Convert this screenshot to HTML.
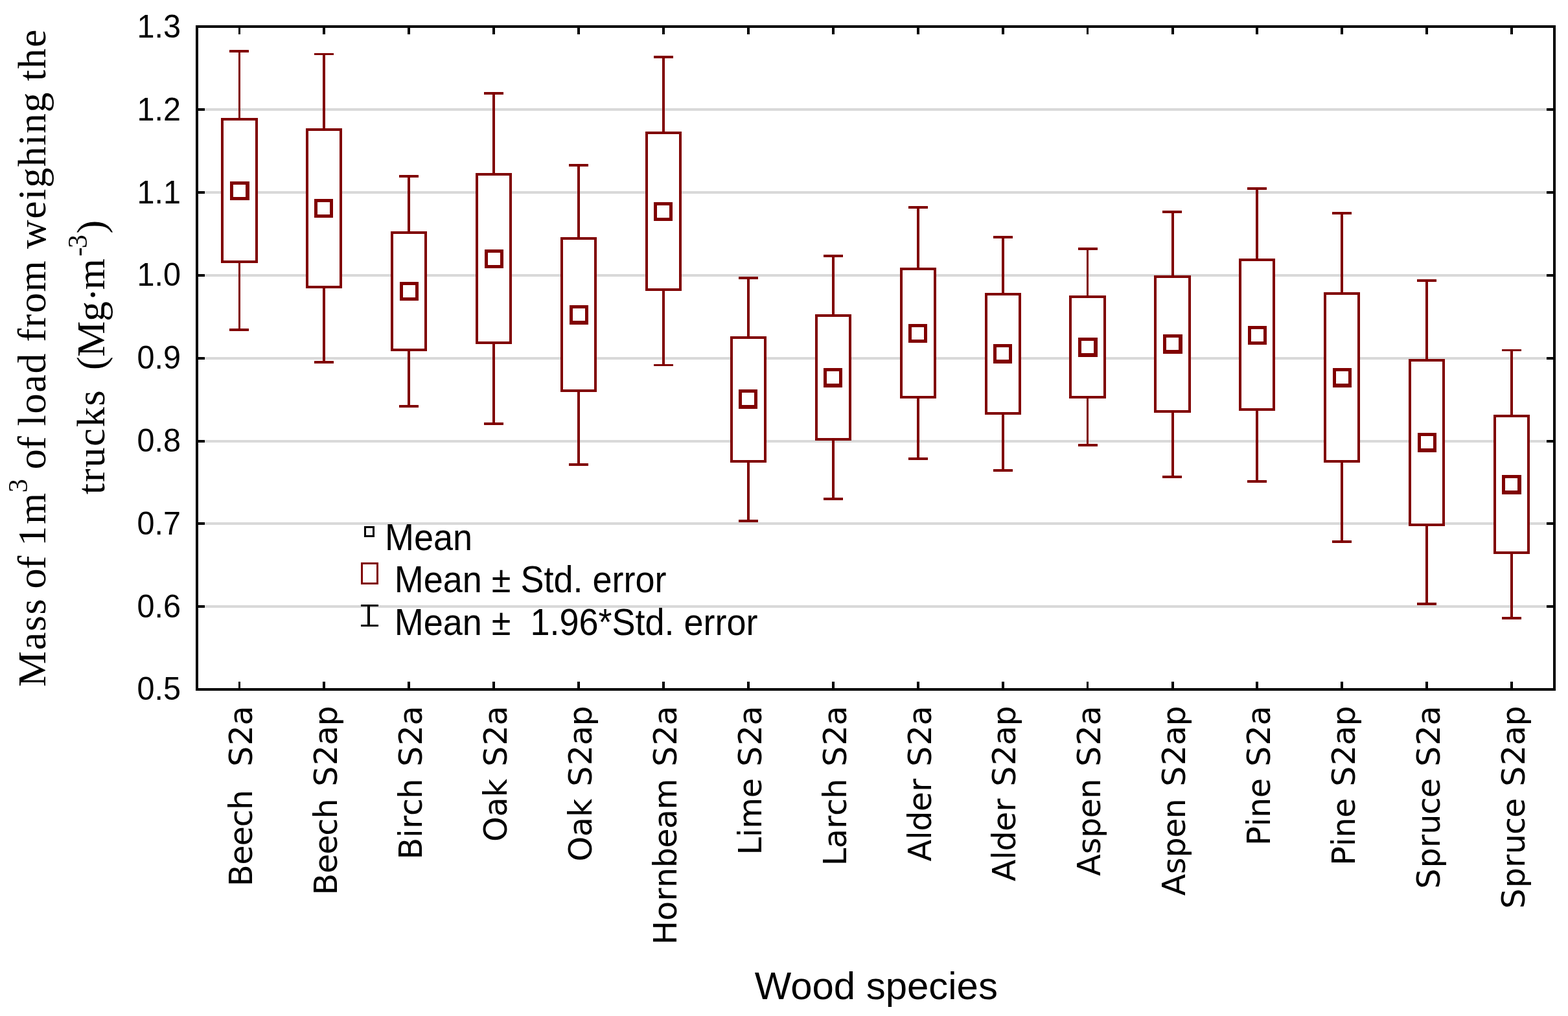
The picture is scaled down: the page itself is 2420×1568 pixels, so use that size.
<!DOCTYPE html>
<html lang="en">
<head>
<meta charset="utf-8">
<title>Mass of 1m3 of load from weighing the trucks by wood species</title>
<style>
html,body{margin:0;padding:0;background:#fff;}
body{width:2420px;height:1568px;overflow:hidden;}
svg{display:block;}
text{fill:#000;white-space:pre;}
.sans{font-family:"Liberation Sans",sans-serif;}
.serif{font-family:"Liberation Serif",serif;}
.xl{font-family:"DejaVu Sans", "Liberation Sans", sans-serif;}
</style>
</head>
<body>
<svg width="2420" height="1568" viewBox="0 0 2420 1568" shape-rendering="crispEdges">
<rect x="0" y="0" width="2420" height="1568" fill="#fff"/>
<g id="grid">
<rect x="316" y="167" width="2071" height="4" fill="#d9d9d9"/>
<rect x="316" y="295" width="2071" height="4" fill="#d9d9d9"/>
<rect x="316" y="423" width="2071" height="4" fill="#d9d9d9"/>
<rect x="316" y="551" width="2071" height="4" fill="#d9d9d9"/>
<rect x="316" y="679" width="2071" height="4" fill="#d9d9d9"/>
<rect x="316" y="806" width="2071" height="4" fill="#d9d9d9"/>
<rect x="316" y="934" width="2071" height="4" fill="#d9d9d9"/>
</g>
<g id="whiskers">
<rect x="368" y="79" width="3" height="430" fill="#800000"/>
<rect x="354" y="77" width="30" height="4" fill="#800000"/>
<rect x="354" y="507" width="30" height="4" fill="#800000"/>
<rect x="498" y="84" width="4" height="475" fill="#800000"/>
<rect x="485" y="82" width="30" height="3" fill="#800000"/>
<rect x="485" y="557" width="30" height="4" fill="#800000"/>
<rect x="629" y="272" width="4" height="355" fill="#800000"/>
<rect x="616" y="270" width="30" height="4" fill="#800000"/>
<rect x="616" y="625" width="30" height="4" fill="#800000"/>
<rect x="760" y="144" width="4" height="510" fill="#800000"/>
<rect x="747" y="142" width="30" height="4" fill="#800000"/>
<rect x="747" y="652" width="30" height="4" fill="#800000"/>
<rect x="891" y="255" width="4" height="462" fill="#800000"/>
<rect x="878" y="253" width="30" height="4" fill="#800000"/>
<rect x="878" y="715" width="30" height="4" fill="#800000"/>
<rect x="1022" y="88" width="4" height="476" fill="#800000"/>
<rect x="1009" y="86" width="30" height="4" fill="#800000"/>
<rect x="1009" y="562" width="30" height="3" fill="#800000"/>
<rect x="1153" y="429" width="4" height="375" fill="#800000"/>
<rect x="1140" y="427" width="30" height="4" fill="#800000"/>
<rect x="1140" y="802" width="30" height="4" fill="#800000"/>
<rect x="1284" y="395" width="4" height="375" fill="#800000"/>
<rect x="1271" y="393" width="30" height="4" fill="#800000"/>
<rect x="1271" y="768" width="30" height="4" fill="#800000"/>
<rect x="1415" y="320" width="4" height="388" fill="#800000"/>
<rect x="1402" y="318" width="30" height="4" fill="#800000"/>
<rect x="1402" y="706" width="30" height="4" fill="#800000"/>
<rect x="1546" y="366" width="4" height="360" fill="#800000"/>
<rect x="1533" y="364" width="30" height="4" fill="#800000"/>
<rect x="1533" y="724" width="30" height="4" fill="#800000"/>
<rect x="1677" y="384" width="3" height="303" fill="#800000"/>
<rect x="1664" y="382" width="30" height="4" fill="#800000"/>
<rect x="1664" y="685" width="30" height="4" fill="#800000"/>
<rect x="1808" y="327" width="4" height="409" fill="#800000"/>
<rect x="1794" y="325" width="30" height="4" fill="#800000"/>
<rect x="1794" y="734" width="30" height="4" fill="#800000"/>
<rect x="1938" y="291" width="4" height="452" fill="#800000"/>
<rect x="1925" y="289" width="30" height="4" fill="#800000"/>
<rect x="1925" y="741" width="30" height="4" fill="#800000"/>
<rect x="2069" y="329" width="4" height="507" fill="#800000"/>
<rect x="2056" y="327" width="30" height="4" fill="#800000"/>
<rect x="2056" y="834" width="30" height="4" fill="#800000"/>
<rect x="2200" y="433" width="4" height="499" fill="#800000"/>
<rect x="2187" y="431" width="30" height="4" fill="#800000"/>
<rect x="2187" y="930" width="30" height="4" fill="#800000"/>
<rect x="2331" y="540" width="4" height="414" fill="#800000"/>
<rect x="2318" y="539" width="30" height="3" fill="#800000"/>
<rect x="2318" y="952" width="30" height="4" fill="#800000"/>
</g>
<g id="boxes">
<rect x="341" y="182" width="57" height="224" fill="#800000"/>
<rect x="345" y="186" width="49" height="216" fill="#fff"/>
<rect x="472" y="198" width="56" height="247" fill="#800000"/>
<rect x="476" y="202" width="48" height="239" fill="#fff"/>
<rect x="603" y="357" width="56" height="185" fill="#800000"/>
<rect x="607" y="361" width="48" height="177" fill="#fff"/>
<rect x="734" y="267" width="56" height="264" fill="#800000"/>
<rect x="738" y="271" width="48" height="256" fill="#fff"/>
<rect x="865" y="366" width="56" height="239" fill="#800000"/>
<rect x="869" y="370" width="48" height="231" fill="#fff"/>
<rect x="996" y="203" width="56" height="246" fill="#800000"/>
<rect x="1000" y="207" width="48" height="238" fill="#fff"/>
<rect x="1127" y="519" width="56" height="195" fill="#800000"/>
<rect x="1131" y="523" width="48" height="187" fill="#fff"/>
<rect x="1258" y="485" width="56" height="195" fill="#800000"/>
<rect x="1262" y="489" width="48" height="187" fill="#fff"/>
<rect x="1389" y="413" width="56" height="202" fill="#800000"/>
<rect x="1393" y="417" width="48" height="194" fill="#fff"/>
<rect x="1520" y="452" width="56" height="188" fill="#800000"/>
<rect x="1524" y="456" width="48" height="180" fill="#fff"/>
<rect x="1650" y="456" width="57" height="159" fill="#800000"/>
<rect x="1654" y="460" width="49" height="151" fill="#fff"/>
<rect x="1781" y="425" width="57" height="212" fill="#800000"/>
<rect x="1785" y="429" width="49" height="204" fill="#fff"/>
<rect x="1912" y="399" width="56" height="235" fill="#800000"/>
<rect x="1916" y="403" width="48" height="227" fill="#fff"/>
<rect x="2043" y="451" width="56" height="263" fill="#800000"/>
<rect x="2047" y="455" width="48" height="255" fill="#fff"/>
<rect x="2174" y="554" width="56" height="258" fill="#800000"/>
<rect x="2178" y="558" width="48" height="250" fill="#fff"/>
<rect x="2305" y="640" width="56" height="215" fill="#800000"/>
<rect x="2309" y="644" width="48" height="207" fill="#fff"/>
</g>
<g id="means">
<rect x="355" y="280" width="30" height="29" fill="#800000"/>
<rect x="360" y="285" width="19" height="19" fill="#fff"/>
<rect x="485" y="307" width="29" height="29" fill="#800000"/>
<rect x="490" y="312" width="19" height="19" fill="#fff"/>
<rect x="617" y="435" width="29" height="29" fill="#800000"/>
<rect x="622" y="440" width="19" height="19" fill="#fff"/>
<rect x="748" y="385" width="29" height="29" fill="#800000"/>
<rect x="753" y="390" width="19" height="19" fill="#fff"/>
<rect x="879" y="471" width="29" height="30" fill="#800000"/>
<rect x="884" y="476" width="19" height="19" fill="#fff"/>
<rect x="1009" y="312" width="29" height="29" fill="#800000"/>
<rect x="1014" y="317" width="19" height="19" fill="#fff"/>
<rect x="1140" y="601" width="29" height="30" fill="#800000"/>
<rect x="1145" y="606" width="19" height="19" fill="#fff"/>
<rect x="1271" y="568" width="29" height="30" fill="#800000"/>
<rect x="1276" y="573" width="19" height="19" fill="#fff"/>
<rect x="1402" y="500" width="29" height="29" fill="#800000"/>
<rect x="1407" y="505" width="19" height="19" fill="#fff"/>
<rect x="1533" y="531" width="29" height="30" fill="#800000"/>
<rect x="1538" y="536" width="19" height="19" fill="#fff"/>
<rect x="1664" y="521" width="30" height="30" fill="#800000"/>
<rect x="1669" y="526" width="19" height="19" fill="#fff"/>
<rect x="1795" y="516" width="30" height="30" fill="#800000"/>
<rect x="1800" y="521" width="19" height="19" fill="#fff"/>
<rect x="1926" y="503" width="29" height="29" fill="#800000"/>
<rect x="1931" y="508" width="19" height="19" fill="#fff"/>
<rect x="2057" y="568" width="29" height="30" fill="#800000"/>
<rect x="2062" y="573" width="19" height="19" fill="#fff"/>
<rect x="2188" y="668" width="29" height="30" fill="#800000"/>
<rect x="2193" y="673" width="19" height="19" fill="#fff"/>
<rect x="2318" y="733" width="30" height="30" fill="#800000"/>
<rect x="2323" y="738" width="19" height="19" fill="#fff"/>
</g>
<g id="axes">
<rect x="302" y="39" width="2099" height="4" fill="#000"/>
<rect x="302" y="1062" width="2099" height="4" fill="#000"/>
<rect x="302" y="39" width="4" height="1027" fill="#000"/>
<rect x="2397" y="39" width="4" height="1027" fill="#000"/>
<rect x="306" y="167" width="10" height="4" fill="#000"/>
<rect x="2387" y="167" width="10" height="4" fill="#000"/>
<rect x="306" y="295" width="10" height="4" fill="#000"/>
<rect x="2387" y="295" width="10" height="4" fill="#000"/>
<rect x="306" y="423" width="10" height="4" fill="#000"/>
<rect x="2387" y="423" width="10" height="4" fill="#000"/>
<rect x="306" y="551" width="10" height="4" fill="#000"/>
<rect x="2387" y="551" width="10" height="4" fill="#000"/>
<rect x="306" y="679" width="10" height="4" fill="#000"/>
<rect x="2387" y="679" width="10" height="4" fill="#000"/>
<rect x="306" y="806" width="10" height="4" fill="#000"/>
<rect x="2387" y="806" width="10" height="4" fill="#000"/>
<rect x="306" y="934" width="10" height="4" fill="#000"/>
<rect x="2387" y="934" width="10" height="4" fill="#000"/>
<rect x="368" y="43" width="3" height="10" fill="#000"/>
<rect x="368" y="1052" width="3" height="10" fill="#000"/>
<rect x="498" y="43" width="4" height="10" fill="#000"/>
<rect x="498" y="1052" width="4" height="10" fill="#000"/>
<rect x="629" y="43" width="4" height="10" fill="#000"/>
<rect x="629" y="1052" width="4" height="10" fill="#000"/>
<rect x="760" y="43" width="4" height="10" fill="#000"/>
<rect x="760" y="1052" width="4" height="10" fill="#000"/>
<rect x="891" y="43" width="4" height="10" fill="#000"/>
<rect x="891" y="1052" width="4" height="10" fill="#000"/>
<rect x="1022" y="43" width="4" height="10" fill="#000"/>
<rect x="1022" y="1052" width="4" height="10" fill="#000"/>
<rect x="1153" y="43" width="4" height="10" fill="#000"/>
<rect x="1153" y="1052" width="4" height="10" fill="#000"/>
<rect x="1284" y="43" width="4" height="10" fill="#000"/>
<rect x="1284" y="1052" width="4" height="10" fill="#000"/>
<rect x="1415" y="43" width="4" height="10" fill="#000"/>
<rect x="1415" y="1052" width="4" height="10" fill="#000"/>
<rect x="1546" y="43" width="4" height="10" fill="#000"/>
<rect x="1546" y="1052" width="4" height="10" fill="#000"/>
<rect x="1677" y="43" width="3" height="10" fill="#000"/>
<rect x="1677" y="1052" width="3" height="10" fill="#000"/>
<rect x="1808" y="43" width="4" height="10" fill="#000"/>
<rect x="1808" y="1052" width="4" height="10" fill="#000"/>
<rect x="1938" y="43" width="4" height="10" fill="#000"/>
<rect x="1938" y="1052" width="4" height="10" fill="#000"/>
<rect x="2069" y="43" width="4" height="10" fill="#000"/>
<rect x="2069" y="1052" width="4" height="10" fill="#000"/>
<rect x="2200" y="43" width="4" height="10" fill="#000"/>
<rect x="2200" y="1052" width="4" height="10" fill="#000"/>
<rect x="2331" y="43" width="4" height="10" fill="#000"/>
<rect x="2331" y="1052" width="4" height="10" fill="#000"/>
</g>
<g id="yticks" class="sans" font-size="48.6" text-anchor="end">
<text transform="translate(279 58.4) scale(1 1.03)">1.3</text>
<text transform="translate(279 186.4) scale(1 1.03)">1.2</text>
<text transform="translate(279 314.4) scale(1 1.03)">1.1</text>
<text transform="translate(279 441.4) scale(1 1.03)">1.0</text>
<text transform="translate(279 569.4) scale(1 1.03)">0.9</text>
<text transform="translate(279 697.4) scale(1 1.03)">0.8</text>
<text transform="translate(279 825.4) scale(1 1.03)">0.7</text>
<text transform="translate(279 953.4) scale(1 1.03)">0.6</text>
<text transform="translate(279 1080.4) scale(1 1.03)">0.5</text>
</g>
<g id="xticks" class="xl" font-size="49.2">
<text transform="translate(389.0 1089.7) rotate(-90)" x="-278.3 -245.0 -215.7 -186.6 -160.3 -128.3 -111.0 -93.3 -60.9 -29.9" xml:space="preserve">Beech  S2a</text>
<text transform="translate(519.9 1089.7) rotate(-90)" x="-291.7 -258.4 -229.1 -200.0 -173.7 -141.6 -124.0 -91.5 -60.5 -30.9" xml:space="preserve">Beech S2ap</text>
<text transform="translate(650.8 1089.7) rotate(-90)" x="-236.8 -203.2 -189.2 -169.3 -143.0 -111.0 -93.3 -60.9 -29.9" xml:space="preserve">Birch S2a</text>
<text transform="translate(781.8 1089.7) rotate(-90)" x="-209.2 -170.8 -140.6 -111.0 -93.3 -60.9 -29.9" xml:space="preserve">Oak S2a</text>
<text transform="translate(912.7 1089.7) rotate(-90)" x="-239.9 -201.5 -171.3 -141.6 -124.0 -91.5 -60.5 -30.9" xml:space="preserve">Oak S2ap</text>
<text transform="translate(1043.7 1089.7) rotate(-90)" x="-368.2 -331.4 -301.0 -280.4 -249.5 -219.1 -189.6 -159.7 -111.0 -93.3 -60.9 -29.9" xml:space="preserve">Hornbeam S2a</text>
<text transform="translate(1174.6 1089.7) rotate(-90)" x="-229.9 -202.6 -189.1 -141.6 -111.0 -93.3 -60.9 -29.9" xml:space="preserve">Lime S2a</text>
<text transform="translate(1305.5 1089.7) rotate(-90)" x="-246.6 -219.5 -189.2 -169.3 -143.0 -111.0 -93.3 -60.9 -29.9" xml:space="preserve">Larch S2a</text>
<text transform="translate(1436.5 1089.7) rotate(-90)" x="-239.9 -206.4 -193.1 -162.6 -132.4 -111.0 -93.3 -60.9 -29.9" xml:space="preserve">Alder S2a</text>
<text transform="translate(1567.4 1089.7) rotate(-90)" x="-270.6 -237.0 -223.8 -193.3 -163.1 -141.6 -124.0 -91.5 -60.5 -30.9" xml:space="preserve">Alder S2ap</text>
<text transform="translate(1698.3 1089.7) rotate(-90)" x="-262.2 -228.6 -203.2 -172.8 -143.0 -111.0 -93.3 -60.9 -29.9" xml:space="preserve">Aspen S2a</text>
<text transform="translate(1829.3 1089.7) rotate(-90)" x="-292.9 -259.2 -233.9 -203.4 -173.7 -141.6 -124.0 -91.5 -60.5 -30.9" xml:space="preserve">Aspen S2ap</text>
<text transform="translate(1960.2 1089.7) rotate(-90)" x="-215.4 -185.9 -172.3 -141.6 -111.0 -93.3 -60.9 -29.9" xml:space="preserve">Pine S2a</text>
<text transform="translate(2091.2 1089.7) rotate(-90)" x="-246.1 -216.5 -203.0 -172.3 -141.6 -124.0 -91.5 -60.5 -30.9" xml:space="preserve">Pine S2ap</text>
<text transform="translate(2222.1 1089.7) rotate(-90)" x="-282.0 -249.9 -218.5 -198.0 -167.5 -141.6 -111.0 -93.3 -60.9 -29.9" xml:space="preserve">Spruce S2a</text>
<text transform="translate(2353.0 1089.7) rotate(-90)" x="-312.7 -280.5 -249.2 -228.6 -198.2 -172.3 -141.6 -124.0 -91.5 -60.5 -30.9" xml:space="preserve">Spruce S2ap</text>
</g>
<text class="sans" font-size="59.9" text-anchor="middle" x="1352.3" y="1542.3">Wood species</text>
<g id="ytitle" class="serif" font-size="62">
<text transform="translate(70 0) rotate(-90)"><tspan x="-1060.0" y="0" letter-spacing="1.61">Mass</tspan> <tspan x="-908.6" y="0" letter-spacing="-0.79">of</tspan> <tspan x="-842.7" y="0" letter-spacing="2.79">1m</tspan><tspan x="-760.3" y="-28" font-size="42.5">3</tspan> <tspan x="-724.3" y="0" letter-spacing="-0.79">of</tspan> <tspan x="-657.4" y="0" letter-spacing="1.68">load</tspan> <tspan x="-527.8" y="0" letter-spacing="1.69">from</tspan> <tspan x="-384.0" y="0" letter-spacing="1.54">weighing</tspan> <tspan x="-125.1" y="0" letter-spacing="1.96">the</tspan></text>
<text transform="translate(161 0) rotate(-90)"><tspan x="-763.0" y="0" letter-spacing="1.83">trucks</tspan> <tspan x="-571.0" y="0" letter-spacing="-0.33">(Mg</tspan><tspan x="-465.3" y="3">·</tspan><tspan x="-447.3" y="0">m</tspan><tspan x="-395.7" y="-27" font-size="42.5" letter-spacing="-1.67">-3</tspan><tspan x="-360.6" y="0">)</tspan></text>
</g>
<g id="legend">
<rect x="562" y="812" width="16" height="17" fill="#000"/>
<rect x="565" y="815" width="10" height="11" fill="#f6f6f6"/>
<rect x="557" y="868" width="27" height="34" fill="#800000"/>
<rect x="560" y="871" width="21" height="28" fill="#fff"/>
<rect x="557" y="933" width="27" height="3" fill="#000"/>
<rect x="557" y="964" width="27" height="3" fill="#000"/>
<rect x="567" y="933" width="4" height="34" fill="#000"/>
<g class="sans" font-size="54.0">
<text transform="translate(594 849) scale(1 1.05)">Mean</text>
<text transform="translate(608.7 914) scale(1 1.05)" xml:space="preserve">Mean ± Std. error</text>
<text transform="translate(608.7 980) scale(1 1.05)" xml:space="preserve">Mean ±  1.96*Std. error</text>
</g>
</g>
</svg>
</body>
</html>
